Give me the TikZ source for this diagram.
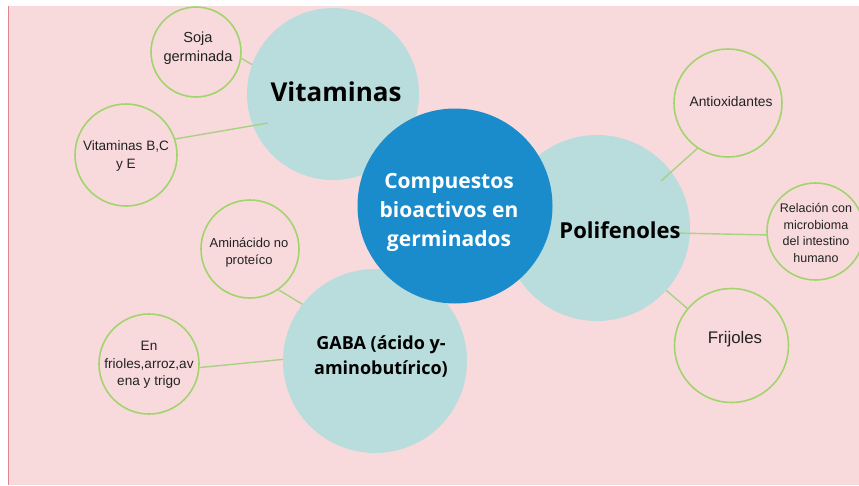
\documentclass[tikz,border=0pt]{standalone}
\usepackage{fontspec}
\setmainfont{Liberation Sans}
\newfontfamily\titlefont{Open Sans}
\definecolor{bgpink}{HTML}{F8DADC}
\definecolor{edgered}{HTML}{E0868C}
\definecolor{tealc}{HTML}{B9DCDC}
\definecolor{bluec}{HTML}{1A8CCB}
\definecolor{greenring}{HTML}{A2D46E}
\definecolor{greenline}{HTML}{A9D184}
\definecolor{smalltext}{HTML}{222222}
\tikzset{
  bigcircle/.style={circle, fill=tealc, draw=none, inner sep=0pt},
  hubcircle/.style={circle, fill=bluec, draw=none, inner sep=0pt},
  ring/.style={circle, draw=greenring, line width=1.6pt, inner sep=0pt},
  link/.style={draw=greenline, line width=1.4pt},
  smalllabel/.style={align=center, text=smalltext, inner sep=0pt},
  titlelabel/.style={align=center, inner sep=0pt, font=\titlefont\bfseries}
}
\begin{document}
\begin{tikzpicture}[x=1pt,y=-1pt]
\useasboundingbox (0,0) rectangle (859,485);
\clip (0,0) rectangle (859,485);
\fill[white] (0,0) rectangle (859,485);
\fill[bgpink] (8,6) rectangle (859,485);
\draw[edgered, line width=1.2pt] (8.6,6) -- (8.6,485);
% big circles
\node[bigcircle, minimum size=172pt] (vit) at (333,94) {};
\node[bigcircle, minimum size=186pt] (pol) at (597,228) {};
\node[bigcircle, minimum size=184pt] (gaba) at (375,361) {};
\node[hubcircle, minimum size=195pt] (hub) at (455,206) {};
% small rings
\node[ring, minimum size=90pt] (soja) at (196,52) {};
\node[ring, minimum size=102pt] (vbc) at (126,155) {};
\node[ring, minimum size=98pt] (amin) at (250,249) {};
\node[ring, minimum size=100pt] (frio) at (149,364) {};
\node[ring, minimum size=108pt] (anti) at (728,103) {};
\node[ring, minimum size=97pt] (rel) at (815.5,231.5) {};
\node[ring, minimum size=114pt] (frij) at (731.5,345.5) {};
% inner free ends
\coordinate (vitIn) at (268,123);
\coordinate (polInA) at (661,181);
\coordinate (polInB) at (675,233);
% connectors
\draw[link] (soja.-8) -- (vit.160);
\draw[link] (vbc.18) -- (vitIn);
\draw[link] (amin.-55) -- (gaba.142);
\draw[link] (frio.-4) -- (gaba.179);
\draw[link] (anti.236) -- (polInA);
\draw[link] (polInB) -- (rel.184);
\draw[link] (pol.-42) -- (frij.140);
% texts
\node[titlelabel, font=\titlefont\bfseries\fontsize{26}{30}\selectfont] (tvit) at (336,92) {Vitaminas};
\node[titlelabel, font=\titlefont\bfseries\fontsize{22}{26}\selectfont] (tpol) at (620,230) {Polifenoles};
\node[titlelabel, text=white, font=\titlefont\bfseries\fontsize{21}{29}\selectfont] (thub) at (449,212) {Compuestos\\bioactivos en\\germinados};
\node[titlelabel, font=\titlefont\bfseries\fontsize{18}{25}\selectfont] (tgaba) at (381,357) {GABA (ácido y-\\aminobutírico)};
\node[smalllabel, font=\fontsize{14.6}{19}\selectfont] (tsoja) at (198,48.5) {Soja\\germinada};
\node[smalllabel, font=\fontsize{13.6}{18}\selectfont] (tvbc) at (126,156) {Vitaminas B,C\\y E};
\node[smalllabel, font=\fontsize{13}{17}\selectfont] (tamin) at (249,253) {Aminácido no\\proteíco};
\node[smalllabel, font=\fontsize{13.6}{17.5}\selectfont] (tfrio) at (149,365) {En\\frioles,arroz,av\\ena y trigo};
\node[smalllabel, font=\fontsize{13.8}{17}\selectfont] (tanti) at (731,102) {Antioxidantes};
\node[smalllabel, font=\fontsize{12.5}{16.7}\selectfont] (trel) at (816,233) {Relación con\\microbioma\\del intestino\\humano};
\node[smalllabel, font=\fontsize{16.8}{20}\selectfont] (tfrij) at (735,339) {Frijoles};
\end{tikzpicture}
\end{document}
